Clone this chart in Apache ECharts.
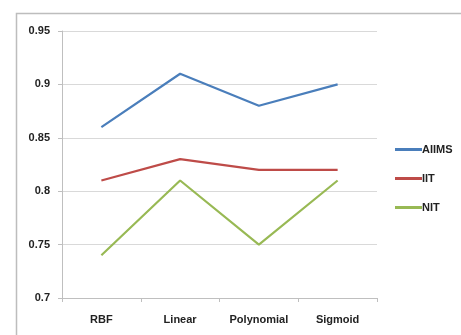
<!DOCTYPE html>
<html><head><meta charset="utf-8">
<script src="https://cdn.jsdelivr.net/npm/echarts@6/dist/echarts.min.js"></script>
<style>html,body{margin:0;padding:0;background:#fff}#c{width:461px;height:335px}</style>
</head><body><div id="c"></div>
<script>
const categories = ['RBF', 'Linear', 'Polynomial', 'Sigmoid'];
const aiims = [0.86, 0.91, 0.88, 0.90];
const iit = [0.81, 0.83, 0.82, 0.82];
const nit = [0.74, 0.81, 0.75, 0.81];
const seriesNames = ['AIIMS', 'IIT', 'NIT'];
const colors = ['#4a7ebb', '#be4b48', '#98b954'];

const chart = echarts.init(document.getElementById('c'));
const font = 'Liberation Sans Narrow, Liberation Sans, sans-serif';
chart.setOption({
  animation: false,
  color: colors,
  graphic: [{type: 'rect', shape: {x: 16.5, y: 13.5, width: 460, height: 340}, style: {fill: 'none', stroke: '#bdbdbd', lineWidth: 1.5}, silent: true}],
  grid: {left: 62, right: 84, top: 31, bottom: 37},
  legend: {
    orient: 'vertical', left: 390, top: 139, itemWidth: 27, itemHeight: 3, itemGap: 18,
    icon: 'rect',
    data: seriesNames,
    textStyle: {fontFamily: font, fontSize: 11, fontWeight: 'bold', color: '#222', padding: [0,0,0,-5]}
  },
  xAxis: {
    type: 'category', data: categories, boundaryGap: true,
    axisLine: {lineStyle: {color: '#bfbfbf'}},
    axisTick: {show: true, length: 4, lineStyle: {color: '#bfbfbf'}},
    axisLabel: {margin: 16, fontFamily: font, fontSize: 11, fontWeight: 'bold', color: '#222'}
  },
  yAxis: {
    type: 'value', min: 0.7, max: 0.95, interval: 0.05,
    axisLine: {show: true, lineStyle: {color: '#bfbfbf'}},
    axisTick: {show: true, length: 4, lineStyle: {color: '#bfbfbf'}},
    splitLine: {lineStyle: {color: '#d9d9d9'}},
    axisLabel: {margin: 12, fontFamily: font, fontSize: 11, fontWeight: 'bold', color: '#222',
      formatter: v => String(+v.toFixed(2))}
  },
  series: [
    {name: seriesNames[0], type: 'line', data: aiims, showSymbol: false, lineStyle: {width: 2.2}},
    {name: seriesNames[1], type: 'line', data: iit, showSymbol: false, lineStyle: {width: 2.2}},
    {name: seriesNames[2], type: 'line', data: nit, showSymbol: false, lineStyle: {width: 2.2}}
  ]
});
</script></body></html>
